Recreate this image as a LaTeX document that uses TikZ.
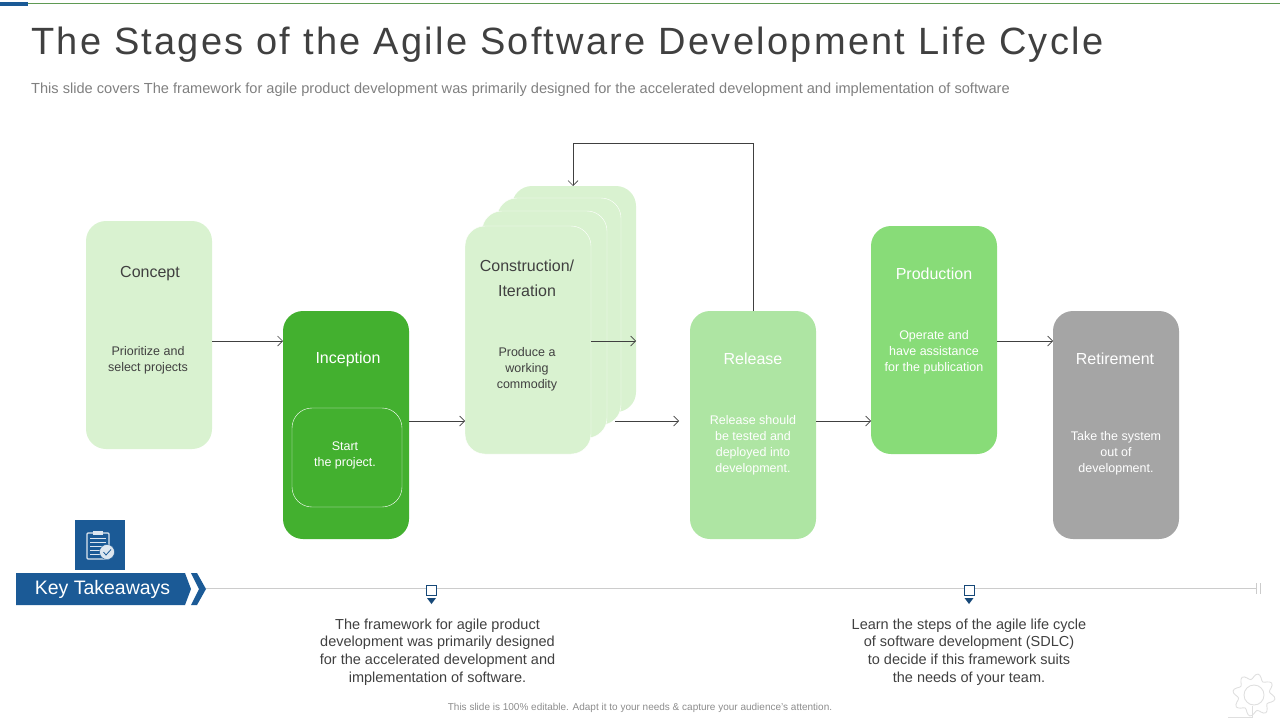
\documentclass[tikz,border=0pt]{standalone}
\usepackage{fontspec}
\setmainfont{Liberation Sans}
\newfontfamily\titlefont[LetterSpace=6]{Liberation Sans}
\usepackage{xcolor}
\usetikzlibrary{arrows.meta}
\definecolor{paleGreen}{HTML}{D9F2D0}
\definecolor{deepGreen}{HTML}{43B02F}
\definecolor{softGreen}{HTML}{AEE5A3}
\definecolor{midGreen}{HTML}{88DC78}
\definecolor{stoneGray}{HTML}{A5A5A5}
\definecolor{keyBlue}{HTML}{1B5A96}
\definecolor{inkGray}{HTML}{404040}
\tikzset{
	card/.style={rounded corners=20pt, draw=none},
	heading/.style={font=\fontsize{16}{25}\selectfont, align=center, anchor=center},
	body/.style={font=\fontsize{12.5}{16}\selectfont, align=center, anchor=center},
	takeaway/.style={font=\fontsize{14.5}{17.6}\selectfont, align=center, anchor=center, text=inkGray},
	flow/.style={-{Straight Barb[length=5pt,width=10pt]}, draw=inkGray, line width=0.7pt}
}

\begin{document}
\begin{tikzpicture}[x=1pt, y=-1pt]
	\useasboundingbox (0, 0) rectangle (1280, 720);

	\fill[keyBlue] (0, 2) rectangle (28, 6);
	\draw[draw=midGreen!70!black, line width=0.8pt] (28, 3.5) -- (1280, 3.5);
	\node (title) [anchor=west, inner sep=0, font=\fontsize{38}{38}\selectfont\titlefont, text=inkGray] at (31, 45) {The Stages of the Agile Software Development Life Cycle};
	\node (subtitle) [anchor=west, inner sep=0, font=\fontsize{14.6}{16}\selectfont, text=gray] at (31, 89.5) {This slide covers The framework for agile product development was primarily designed for the accelerated development and implementation of software};

	% stacked cards
	\fill[card, paleGreen] (512, 186) rectangle (636, 412);
	\draw[card, fill=paleGreen, draw=white] (497, 198) rectangle (621, 425);
	\draw[card, fill=paleGreen, draw=white] (482, 211) rectangle (607, 438);
	\path[card, fill=paleGreen, draw=white] (465, 226) rectangle (591, 454);

	\fill[card, paleGreen] (86, 221) rectangle (212, 449);
	\fill[card, deepGreen] (283, 311) rectangle (409, 539);
	\draw[card, draw=white] (292, 408) rectangle (402, 507);
	\fill[card, softGreen] (690, 311) rectangle (816, 539);
	\fill[card, midGreen] (871, 226) rectangle (997, 454);
	\fill[card, stoneGray] (1053, 311) rectangle (1179, 539);

	\node (concept) [heading, text=inkGray] at (150, 274) {Concept};
	\node (conceptText) [body, text=inkGray] at (148, 360) {Prioritize and\\select projects};
	\node (inception) [heading, text=white] at (348, 359) {Inception};
	\node (inceptionText) [body, text=white] at (345, 455) {Start\\the project.};
	\node (construction) [heading, text=inkGray] at (527, 278) {Construction/\\Iteration};
	\node (constructionText) [body, text=inkGray] at (527, 369) {Produce a\\working\\commodity};
	\node (release) [heading, text=white] at (753, 359) {Release};
	\node (releaseText) [body, text=white] at (753, 445) {Release should\\be tested and\\deployed into\\development.};
	\node (production) [heading, text=white] at (934, 274) {Production};
	\node (productionText) [body, text=white] at (934, 352) {Operate and\\have assistance\\for the publication};
	\node (retirement) [heading, text=white] at (1115, 359) {Retirement};
	\node (retirementText) [body, text=white] at (1116, 453) {Take the system\\out of\\development.};

	% connectors
	\coordinate (conceptOut) at (212, 341);
	\coordinate (inceptionIn) at (283, 341);
	\coordinate (inceptionOut) at (409, 421);
	\coordinate (constructionIn) at (465, 421);
	\coordinate (stackFrom) at (591, 341);
	\coordinate (stackTo) at (636, 341);
	\coordinate (stackOut) at (615, 421);
	\coordinate (releaseIn) at (679, 421);
	\coordinate (releaseOut) at (816, 421);
	\coordinate (productionIn) at (871, 421);
	\coordinate (productionOut) at (997, 341);
	\coordinate (retirementIn) at (1053, 341);
	\coordinate (releaseTop) at (753, 311);
	\coordinate (stackTop) at (573, 186);
	\draw[flow] (conceptOut) -- (inceptionIn);
	\draw[flow] (inceptionOut) -- (constructionIn);
	\draw[flow] (stackFrom) -- (stackTo);
	\draw[flow] (stackOut) -- (releaseIn);
	\draw[flow] (releaseOut) -- (productionIn);
	\draw[flow] (productionOut) -- (retirementIn);
	\draw[flow] (releaseTop) -- (753, 143) -- (573, 143) -- (stackTop);

	% key takeaways
	\fill[keyBlue] (75, 520) rectangle (125, 570);
	\draw[white!85!keyBlue, line width=1.2pt, rounded corners=1pt, fill=keyBlue] (87, 533) rectangle (109, 559);
	\fill[white!85!keyBlue] (93, 531) rectangle (103, 535);
	\foreach \y in {538, 542, 546, 550, 554} \draw[white!85!keyBlue, line width=1pt] (90, \y) -- (106, \y);
	\draw[fill=white!85!keyBlue, draw=keyBlue] (107, 552) circle (7.5);
	\draw[keyBlue, line width=0.8pt] (103.5, 552) -- (106, 555) -- (111, 549.5);

	\fill[keyBlue] (16, 573) -- (185, 573) -- (191, 589) -- (185, 605) -- (16, 605) -- cycle;
	\fill[keyBlue] (191, 573) -- (197, 573) -- (206, 589) -- (197, 605) -- (191, 605) -- (199, 589) -- cycle;
	\node (key) [anchor=center, inner sep=0, text=white, font=\fontsize{19.5}{20}\selectfont] at (102.5, 589.5) {Key Takeaways};

	\coordinate (timeStart) at (206, 588.5);
	\coordinate (timeEnd) at (1256, 588.5);
	\draw[draw=gray!40, line width=0.8pt] (timeStart) -- (timeEnd);
	\foreach \x in {1256.5, 1260} \draw[draw=gray!40, line width=0.6pt] (\x, 583) -- (\x, 594);
	\foreach \x in {431.5, 969} {
		\draw[draw=keyBlue!80!black, fill=white, line width=0.9pt] (\x - 5, 585.5) rectangle (\x + 5, 595.5);
		\fill[keyBlue!80!black] (\x - 4.5, 598) -- (\x + 4.5, 598) -- (\x, 604) -- cycle;
	}
	\node (leftNote) [takeaway] at (437.5, 652) {The framework for agile product\\development was primarily designed\\for the accelerated development and\\implementation of software.};
	\node (rightNote) [takeaway] at (969, 652) {Learn the steps of the agile life cycle\\of software development (SDLC)\\to decide if this framework suits\\the needs of your team.};

	\node (footer) [anchor=center, inner sep=0, text=gray!90, font=\fontsize{10}{12}\selectfont] at (640, 708) {This slide is 100\% editable.  Adapt it to your needs \& capture your audience's attention.};

	% gear mark
	\draw[draw=gray!25, line width=0.9pt] plot[smooth cycle, samples=64, domain=0:354] ({1254 + (18.5 + 2.8*sin(8*\x))*cos(\x)}, {695 + (18.5 + 2.8*sin(8*\x))*sin(\x)});
	\draw[draw=gray!25, line width=0.9pt] (1254, 695) circle (10);
	\draw[draw=gray!25, line width=0.9pt] (1228, 717) -- (1252, 717) -- (1252, 706);

\end{tikzpicture}
\end{document}
